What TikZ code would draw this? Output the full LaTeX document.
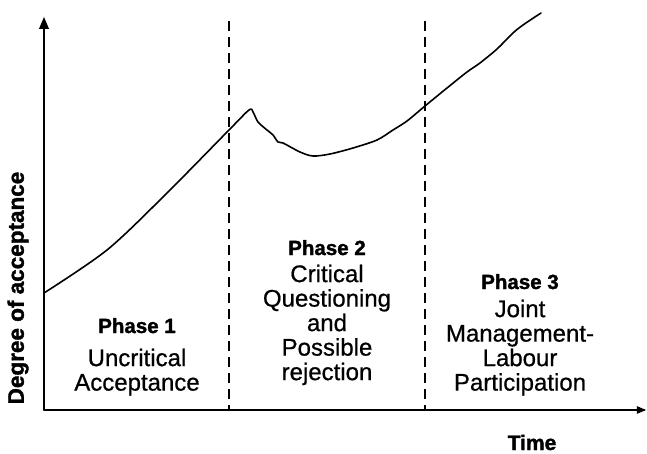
\documentclass[tikz,border=0pt]{standalone}
\usepackage{fontspec}
\setmainfont{Liberation Sans}
\newfontface\phasefont[FakeBold=0.7]{Liberation Sans}
\newfontface\blackfont[FakeBold=1.6]{Liberation Sans Bold}
\usetikzlibrary{arrows}
\tikzset{
  phasehead/.style={anchor=base,inner sep=0pt,font=\fontsize{20.5}{20.5}\selectfont\blackfont},
  phasetext/.style={anchor=north,inner sep=0pt,align=center,font=\fontsize{24}{24.5}\selectfont\phasefont},
  axislabel/.style={inner sep=0pt,font=\fontsize{21}{21}\selectfont\blackfont}
}
\begin{document}
\begin{tikzpicture}[line cap=round,line join=round,>=triangle 45,x=1pt,y=-1pt]
\useasboundingbox (0,0) rectangle (647,454);
\coordinate (O) at (44,410);
\coordinate (ytop) at (44,17);
\coordinate (xend) at (646,410);
\draw [line width=1.8pt,->] (O)-- (ytop);
\draw [line width=1.1pt,->] (O)-- (xend);
\draw [line width=1.6pt,line cap=butt,dash pattern=on 10pt off 6pt] (229,21)-- (229,410);
\draw [line width=1.6pt,line cap=butt,dash pattern=on 10pt off 6pt] (425,21)-- (425,410);
\draw [line width=1.6pt] plot [smooth,tension=0.5] coordinates {(44,293) (107,250) (165,195) (229,130) (249,110) (253,112) (258,122) (267,130) (273,135) (278,142) (283,143) (300,152) (313,156) (330,154) (353,148) (377,140) (393,130) (407,121) (425,106) (447,88) (467,72) (480,63) (497,49) (513,33) (523,25) (541,13)};
\node [phasehead] (head1) at (137,333) {Phase 1};
\node [phasetext] (text1) at (137,348.5) {Uncritical\\Acceptance};
\node [phasehead] (head2) at (327,255) {Phase 2};
\node [phasetext] (text2) at (327,264.5) {Critical\\Questioning\\and\\Possible\\rejection};
\node [phasehead] (head3) at (520,289) {Phase 3};
\node [phasetext] (text3) at (520,299.5) {Joint\\Management-\\Labour\\Participation};
\node [axislabel,anchor=base] (xlab) at (532,450) {Time};
\node [axislabel,rotate=90,font=\fontsize{22.5}{22.5}\selectfont\blackfont] (ylab) at (18,288) {Degree of acceptance};
\end{tikzpicture}
\end{document}
